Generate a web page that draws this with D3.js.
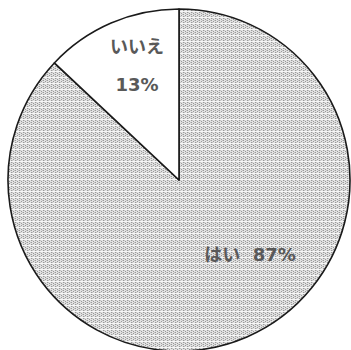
<!DOCTYPE html>
<html><head><meta charset="utf-8">
<script src="https://cdn.jsdelivr.net/npm/d3@7"></script>
<style>html,body{margin:0;padding:0;background:#fff;}</style>
</head><body>
<svg id="c" width="351" height="350"></svg>
<script>
const categories = ["はい", "いいえ"];
const values = [87, 13];
const labels = ["はい  87%", ["いいえ", "13%"]];

const svg = d3.select("#c");
const defs = svg.append("defs");
const pat = defs.append("pattern").attr("id","dots").attr("patternUnits","userSpaceOnUse")
  .attr("width",4).attr("height",6);
pat.append("rect").attr("width",4).attr("height",6).attr("fill","#e2e2e2");
[[0,0],[2,1],[0,2],[2,3],[0,4]].forEach(([x,y])=>pat.append("rect").attr("x",x).attr("y",y).attr("width",1).attr("height",1).attr("fill","#9a9a9a"));
[[1,0],[3,2],[1,4]].forEach(([x,y])=>pat.append("rect").attr("x",x).attr("y",y).attr("width",1).attr("height",1).attr("fill","#c4c4c4"));
pat.append("rect").attr("x",0).attr("y",5).attr("width",4).attr("height",1).attr("fill","#f6f6f6");

const cx = 179, cy = 180, r = 171;
const g = svg.append("g").attr("transform",`translate(${cx},${cy})`);
const pie = d3.pie().sort(null).value(d=>d)(values);
const arc = d3.arc().innerRadius(0).outerRadius(r);
const fills = ["url(#dots)", "#ffffff"];
g.selectAll("path").data(pie).join("path")
  .attr("d", arc).attr("fill",(d,i)=>fills[i])
  .attr("stroke","#1a1a1a").attr("stroke-width",1.6).attr("stroke-linejoin","round");

const font = "'DejaVu Sans','Noto Sans CJK JP',sans-serif";
const t = svg.append("g").attr("font-family",font).attr("font-weight","bold")
  .attr("font-size",18).attr("fill","#595959").attr("text-anchor","middle");
t.append("text").attr("x",250).attr("y",261).attr("xml:space","preserve").text(labels[0]);
t.append("text").attr("x",137).attr("y",53).text(labels[1][0]);
t.append("text").attr("x",137).attr("y",91).text(labels[1][1]);
</script>
</body></html>
